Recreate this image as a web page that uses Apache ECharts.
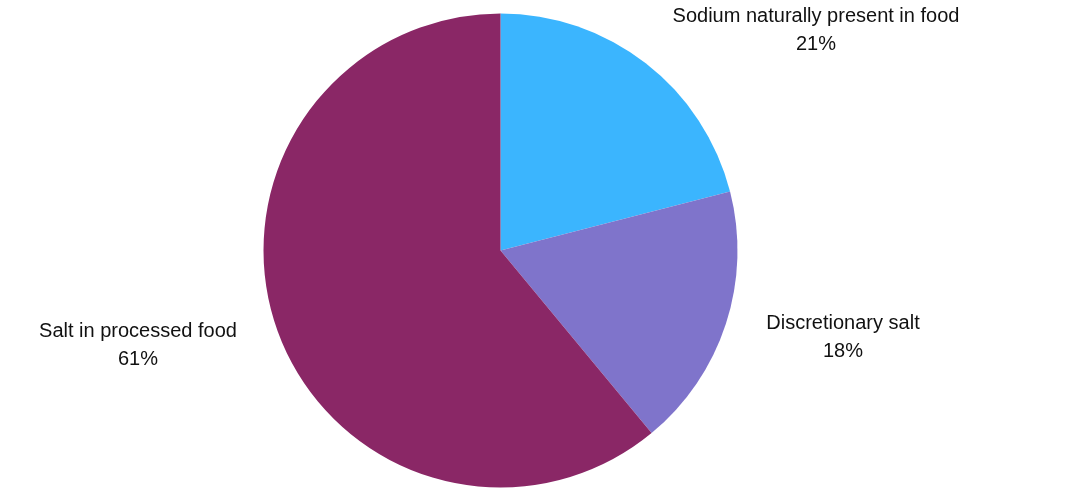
<!DOCTYPE html>
<html>
<head>
<meta charset="utf-8">
<script src="https://cdn.jsdelivr.net/npm/echarts@6/dist/echarts.min.js"></script>
<style>html,body{margin:0;padding:0;background:#fff}#c{width:1065px;height:500px}</style>
</head>
<body>
<div id="c"></div>
<script>
var categories = ['Sodium naturally present in food', 'Discretionary salt', 'Salt in processed food'];
var values = [21, 18, 61];
var colors = ['#3bb5fe', '#7f74cb', '#8a2766'];
var labelPos = [[816, 30], [843, 337], [138, 345]];

var chart = echarts.init(document.getElementById('c'));
chart.setOption({
  animation: false,
  series: [{
    type: 'pie',
    center: [500.5, 250.5],
    radius: 237,
    startAngle: 90,
    clockwise: true,
    data: categories.map(function (c, i) {
      return { name: c, value: values[i], itemStyle: { color: colors[i] } };
    }),
    label: {
      show: true,
      formatter: '{b}\n{c}%',
      fontFamily: 'Liberation Sans, Arial, sans-serif',
      fontSize: 20,
      lineHeight: 28,
      color: '#111',
      align: 'center'
    },
    labelLine: { show: false },
    labelLayout: function (p) {
      var pos = labelPos[p.dataIndex];
      return { x: pos[0], y: pos[1], align: 'center', verticalAlign: 'middle' };
    },
    emphasis: { disabled: true }
  }]
});
</script>
</body>
</html>
